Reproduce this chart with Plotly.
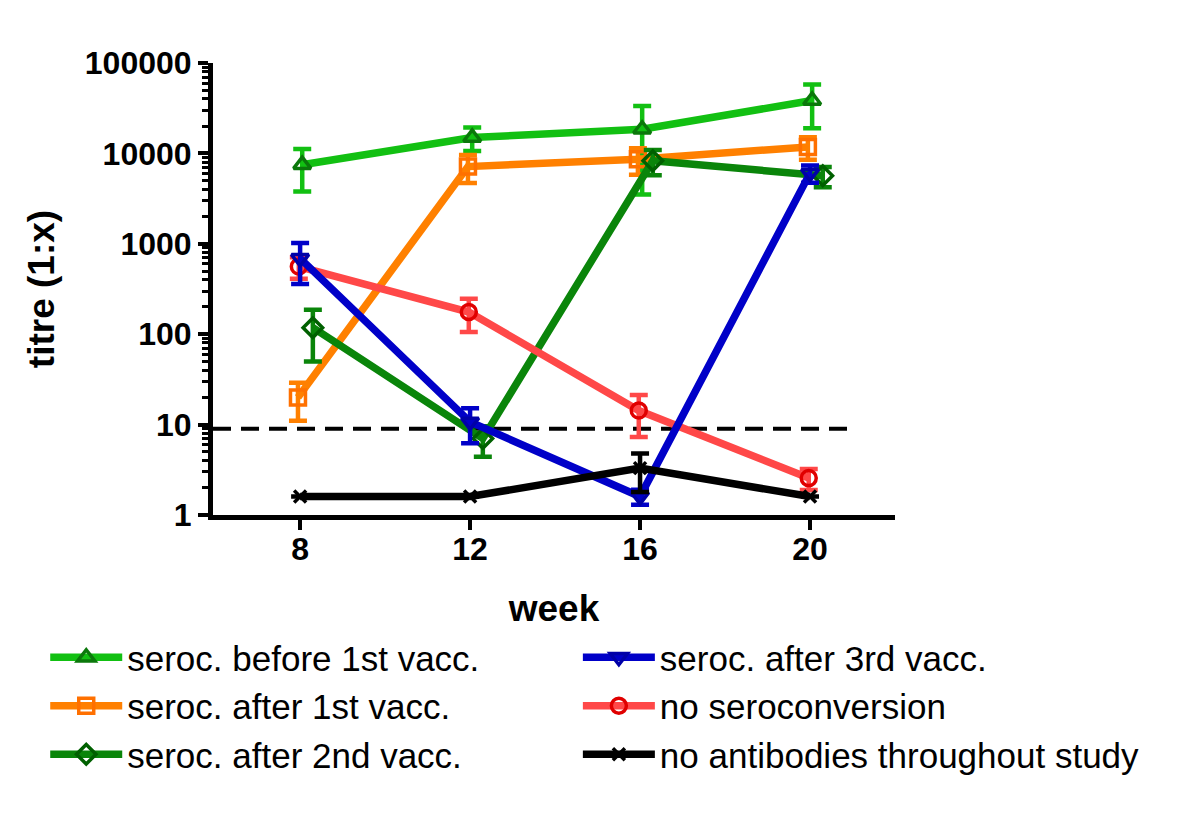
import plotly.graph_objects as go

weeks = [8, 12, 16, 20]

series_names = [
    "seroc. before 1st vacc.",
    "seroc. after 1st vacc.",
    "seroc. after 2nd vacc.",
    "seroc. after 3rd vacc.",
    "no seroconversion",
    "no antibodies throughout study",
]

before_1st = [7500, 15000, 18500, 38500]
before_1st_err = [3700, 4400, 15000, 19500]

after_1st = [20, 7150, 8600, 11800]
after_1st_err = [9, 2450, 2800, 3300]

after_2nd = [118, 7.0, 8300, 5650]
after_2nd_err = [68, 2.6, 2570, 1430]

after_3rd = [690, 10.7, 1.6, 6050]
after_3rd_err = [330, 4.5, 0.3, 1300]

no_seroconv = [560, 176, 14.3, 2.56]
no_seroconv_err = [150, 70, 7.0, 0.67]

no_antibodies = [1.6, 1.6, 3.3, 1.6]
no_antibodies_err = [0, 0, 1.5, 0]

threshold = 9
threshold_span = [5.95, 21.0]

# style per series: line colour, marker colour, symbol, x dodge (weeks), legend
styles = [
    dict(line="#12C012", mark="#0B780B", sym="triangle-up-open", dodge=0.05, legend="legend"),
    dict(line="#FF8000", mark="#FF7000", sym="square-open", dodge=-0.05, legend="legend"),
    dict(line="#0A850A", mark="#006000", sym="diamond-open", dodge=0.3, legend="legend"),
    dict(line="#0000C8", mark="#0000A8", sym="triangle-down-open", dodge=0.0, legend="legend2"),
    dict(line="#FF4848", mark="#E00000", sym="circle-open", dodge=-0.03, legend="legend2"),
    dict(line="#000000", mark="#000000", sym="x-thin-open", dodge=0.0, legend="legend2"),
]

values = [before_1st, after_1st, after_2nd, after_3rd, no_seroconv, no_antibodies]
errors = [before_1st_err, after_1st_err, after_2nd_err, after_3rd_err, no_seroconv_err, no_antibodies_err]

fig = go.Figure()

fig.add_shape(
    type="line", xref="x", yref="y",
    x0=threshold_span[0], x1=threshold_span[1], y0=threshold, y1=threshold,
    line=dict(color="black", width=4, dash="18px,10px"), layer="below",
)

draw_order = [0, 1, 2, 4, 3, 5]
for i in draw_order:
    st = styles[i]
    xs = [w + st["dodge"] for w in weeks]
    fig.add_trace(go.Scatter(
        x=xs, y=values[i], name=series_names[i], mode="lines+markers",
        line=dict(color=st["line"], width=7.5),
        marker=dict(symbol=st["sym"], size=15 if i != 5 else 12, color=st["mark"],
                    line=dict(color=st["mark"], width=3.5)),
        error_y=dict(type="data", array=errors[i], visible=True,
                     color=st["line"], thickness=4.5, width=9),
        legend=st["legend"], legendrank=i + 1,
    ))

axis_font = dict(family="Liberation Sans", size=32, color="black", weight="bold")
title_font = dict(family="Liberation Sans", size=37, color="black", weight="bold")
legend_font = dict(family="Liberation Sans", size=35, color="black")

fig.update_layout(
    width=1200, height=813,
    margin=dict(l=205, r=313, t=55, b=306),
    paper_bgcolor="white", plot_bgcolor="white",
    showlegend=True,
    legend=dict(x=-0.246, y=-0.25, xanchor="left", yanchor="top",
                font=legend_font, itemwidth=72,
                bgcolor="rgba(0,0,0,0)", tracegroupgap=0),
    legend2=dict(x=0.535, y=-0.25, xanchor="left", yanchor="top",
                 font=legend_font, itemwidth=72,
                 bgcolor="rgba(0,0,0,0)", tracegroupgap=0),
    xaxis=dict(
        range=[5.95, 22.0], tickmode="array", tickvals=weeks,
        ticktext=[str(w) for w in weeks],
        showgrid=False, zeroline=False,
        showline=True, linecolor="black", linewidth=5,
        ticks="outside", ticklen=10, tickwidth=4, tickcolor="black",
        tickfont=axis_font, ticklabelstandoff=-8,
        title=dict(text="week", font=title_font, standoff=30),
    ),
    yaxis=dict(
        type="log", range=[0, 5], tickmode="linear", tick0=0, dtick=1,
        tickformat="d",
        showgrid=False, zeroline=False,
        showline=True, linecolor="black", linewidth=5,
        ticks="outside", ticklen=10, tickwidth=4, tickcolor="black",
        tickfont=axis_font,
        minor=dict(ticks="outside", ticklen=6, tickwidth=3, tickcolor="black",
                   dtick="D1", showgrid=False),
        title=dict(text="titre (1:x)", font=title_font, standoff=20),
    ),
)

fig.write_html("out.html")
